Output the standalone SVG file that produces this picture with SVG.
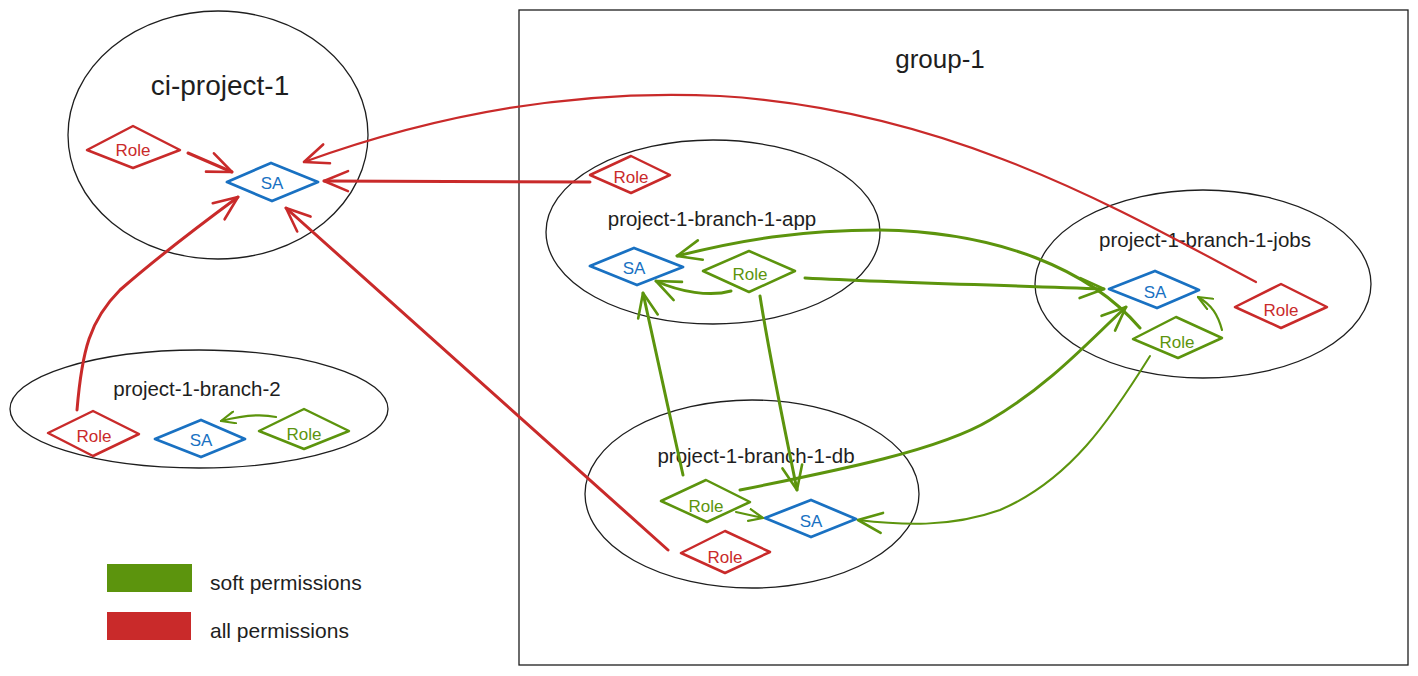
<svg xmlns="http://www.w3.org/2000/svg" width="1418" height="676" viewBox="0 0 1418 676">
  <style>
    .bg { fill: #ffffff; }
    .frame { fill: none; stroke: #1e1e1e; stroke-width: 1.3; }
    .scope { fill: none; stroke: #1e1e1e; stroke-width: 1.3; }
    .title { font-family: "Liberation Sans", "DejaVu Sans", sans-serif; fill: #1e1e1e; text-anchor: middle; }
    .role-red { fill: none; stroke: #c92a2a; stroke-width: 2.5; stroke-linejoin: round; }
    .role-green { fill: none; stroke: #5c940d; stroke-width: 2.5; stroke-linejoin: round; }
    .sa { fill: none; stroke: #1971c2; stroke-width: 2.8; stroke-linejoin: round; }
    .lbl { font-family: "Liberation Sans", "DejaVu Sans", sans-serif; font-size: 17px; text-anchor: middle; dominant-baseline: central; }
    .lbl-red { fill: #c92a2a; }
    .lbl-green { fill: #5c940d; }
    .lbl-blue { fill: #1971c2; }
    .edge-red { fill: none; stroke: #c92a2a; stroke-width: 3; stroke-linecap: round; marker-end: url(#head-red); }
    .edge-red-thin { fill: none; stroke: #c92a2a; stroke-width: 2.2; stroke-linecap: round; marker-end: url(#head-red); }
    .edge-green { fill: none; stroke: #5c940d; stroke-width: 3; stroke-linecap: round; marker-end: url(#head-green); }
    .edge-green-thin { fill: none; stroke: #5c940d; stroke-width: 2; stroke-linecap: round; marker-end: url(#head-green); }
    .edge-green-short { fill: none; stroke: #5c940d; stroke-width: 2.2; stroke-linecap: round; marker-end: url(#head-green-small); }
    .legend-text { font-family: "Liberation Sans", "DejaVu Sans", sans-serif; font-size: 21px; fill: #1e1e1e; }
  </style>
  <defs>
    <marker id="head-red" viewBox="0 0 28 24" refX="26" refY="12" markerWidth="28" markerHeight="24" markerUnits="userSpaceOnUse" orient="auto">
      <path d="M2,2 L26,12 L2,22" fill="none" stroke="#c92a2a" stroke-width="2.6" stroke-linecap="round" stroke-linejoin="round"/>
    </marker>
    <marker id="head-green" viewBox="0 0 28 24" refX="26" refY="12" markerWidth="28" markerHeight="24" markerUnits="userSpaceOnUse" orient="auto">
      <path d="M2,2 L26,12 L2,22" fill="none" stroke="#5c940d" stroke-width="2.6" stroke-linecap="round" stroke-linejoin="round"/>
    </marker>
    <marker id="head-green-small" viewBox="0 0 16 14" refX="15" refY="7" markerWidth="16" markerHeight="14" markerUnits="userSpaceOnUse" orient="auto">
      <path d="M1,1 L15,7 L1,13" fill="none" stroke="#5c940d" stroke-width="2.2" stroke-linecap="round" stroke-linejoin="round"/>
    </marker>
  </defs>

  <rect class="bg" x="0" y="0" width="1418" height="676"/>

  <!-- group frame -->
  <g id="group-1">
    <rect class="frame" x="519" y="10" width="889" height="655"/>
    <text class="title" x="940" y="68" font-size="26">group-1</text>
  </g>

  <!-- ci-project-1 -->
  <g id="ci-project-1">
    <ellipse class="scope" cx="218" cy="135" rx="150" ry="124"/>
    <text class="title" x="220" y="95" font-size="28">ci-project-1</text>
    <g id="ci-role">
      <polygon class="role-red" points="87,150 133,126 180,150 133,168"/>
      <text class="lbl lbl-red" x="133" y="150">Role</text>
    </g>
    <g id="ci-sa">
      <polygon class="sa" points="227,182 271,163 318,182 272,201"/>
      <text class="lbl lbl-blue" x="272" y="183">SA</text>
    </g>
  </g>

  <!-- project-1-branch-2 -->
  <g id="project-1-branch-2">
    <ellipse class="scope" cx="199" cy="409" rx="189" ry="59"/>
    <text class="title" x="197" y="396" font-size="20.5">project-1-branch-2</text>
    <g id="b2-role-red">
      <polygon class="role-red" points="48,433 93,411 139,434 93,456"/>
      <text class="lbl lbl-red" x="94" y="436">Role</text>
    </g>
    <g id="b2-sa">
      <polygon class="sa" points="155,439 201,420 245,439 201,457"/>
      <text class="lbl lbl-blue" x="201" y="440">SA</text>
    </g>
    <g id="b2-role-green">
      <polygon class="role-green" points="259,431 304,409 349,431 304,449"/>
      <text class="lbl lbl-green" x="304" y="434">Role</text>
    </g>
  </g>

  <!-- project-1-branch-1-app -->
  <g id="project-1-branch-1-app">
    <ellipse class="scope" cx="713" cy="232" rx="167" ry="92"/>
    <text class="title" x="712" y="226" font-size="20.5">project-1-branch-1-app</text>
    <g id="app-role-red">
      <polygon class="role-red" points="590,175 631,156 670,175 631,193"/>
      <text class="lbl lbl-red" x="631" y="177">Role</text>
    </g>
    <g id="app-sa">
      <polygon class="sa" points="590,266 634,248 683,267 637,285"/>
      <text class="lbl lbl-blue" x="634" y="268">SA</text>
    </g>
    <g id="app-role-green">
      <polygon class="role-green" points="703,271 749,251 795,271 749,292"/>
      <text class="lbl lbl-green" x="750" y="274">Role</text>
    </g>
  </g>

  <!-- project-1-branch-1-jobs -->
  <g id="project-1-branch-1-jobs">
    <ellipse class="scope" cx="1203" cy="284" rx="168" ry="94"/>
    <text class="title" x="1205" y="247" font-size="20.5">project-1-branch-1-jobs</text>
    <g id="jobs-sa">
      <polygon class="sa" points="1109,289 1155,271 1199,290 1157,308"/>
      <text class="lbl lbl-blue" x="1155" y="292">SA</text>
    </g>
    <g id="jobs-role-green">
      <polygon class="role-green" points="1133,339 1176,317 1222,338 1178,358"/>
      <text class="lbl lbl-green" x="1177" y="342">Role</text>
    </g>
    <g id="jobs-role-red">
      <polygon class="role-red" points="1235,307 1281,284 1327,307 1281,328"/>
      <text class="lbl lbl-red" x="1281" y="310">Role</text>
    </g>
  </g>

  <!-- project-1-branch-1-db -->
  <g id="project-1-branch-1-db">
    <ellipse class="scope" cx="752" cy="494" rx="167" ry="94"/>
    <text class="title" x="756" y="463" font-size="20.5">project-1-branch-1-db</text>
    <g id="db-role-green">
      <polygon class="role-green" points="661,501 706,480 750,502 707,522"/>
      <text class="lbl lbl-green" x="706" y="506">Role</text>
    </g>
    <g id="db-sa">
      <polygon class="sa" points="765,518 811,500 856,519 811,537"/>
      <text class="lbl lbl-blue" x="811" y="521">SA</text>
    </g>
    <g id="db-role-red">
      <polygon class="role-red" points="681,553 725,531 770,552 725,573"/>
      <text class="lbl lbl-red" x="725" y="557">Role</text>
    </g>
  </g>

  <!-- permission connectors -->
  <g id="connectors">
    <!-- all permissions -->
    <path class="edge-red" d="M188,153 L232,172"/>
    <path class="edge-red" d="M77,410 C82,350 90,320 120,290 C160,255 200,225 238,197"/>
    <path class="edge-red" d="M668,550 L286,208"/>
    <path class="edge-red" d="M590,182 L324,181"/>
    <path class="edge-red-thin" d="M1256,282 C1120,210 950,110 720,96 C560,88 420,120 304,162"/>
    <!-- soft permissions -->
    <path class="edge-green-short" d="M276,417 C258,413 240,416 221,421"/>
    <path class="edge-green" d="M731,291 C710,297 680,292 656,281"/>
    <path class="edge-green" d="M1140,328 C1090,270 1000,232 880,230 C800,230 740,240 677,256"/>
    <path class="edge-green" d="M805,278 C900,283 1000,285 1104,289"/>
    <path class="edge-green" d="M683,475 C670,415 655,350 643,293"/>
    <path class="edge-green" d="M760,296 C770,360 785,430 797,490"/>
    <path class="edge-green" d="M740,490 C840,470 940,450 990,420 C1050,385 1090,340 1126,307"/>
    <path class="edge-green-short" d="M736,512 L763,518"/>
    <path class="edge-green-thin" d="M1150,356 C1110,420 1070,480 1000,510 C950,528 900,525 858,520"/>
    <path class="edge-green-short" d="M1222,330 C1218,315 1212,305 1198,297"/>
  </g>

  <!-- legend -->
  <g id="legend">
    <rect x="107" y="564" width="85" height="28" fill="#5c940d"/>
    <text class="legend-text" x="210" y="590">soft permissions</text>
    <rect x="107" y="612" width="84" height="28" fill="#c92a2a"/>
    <text class="legend-text" x="210" y="638">all permissions</text>
  </g>
</svg>
